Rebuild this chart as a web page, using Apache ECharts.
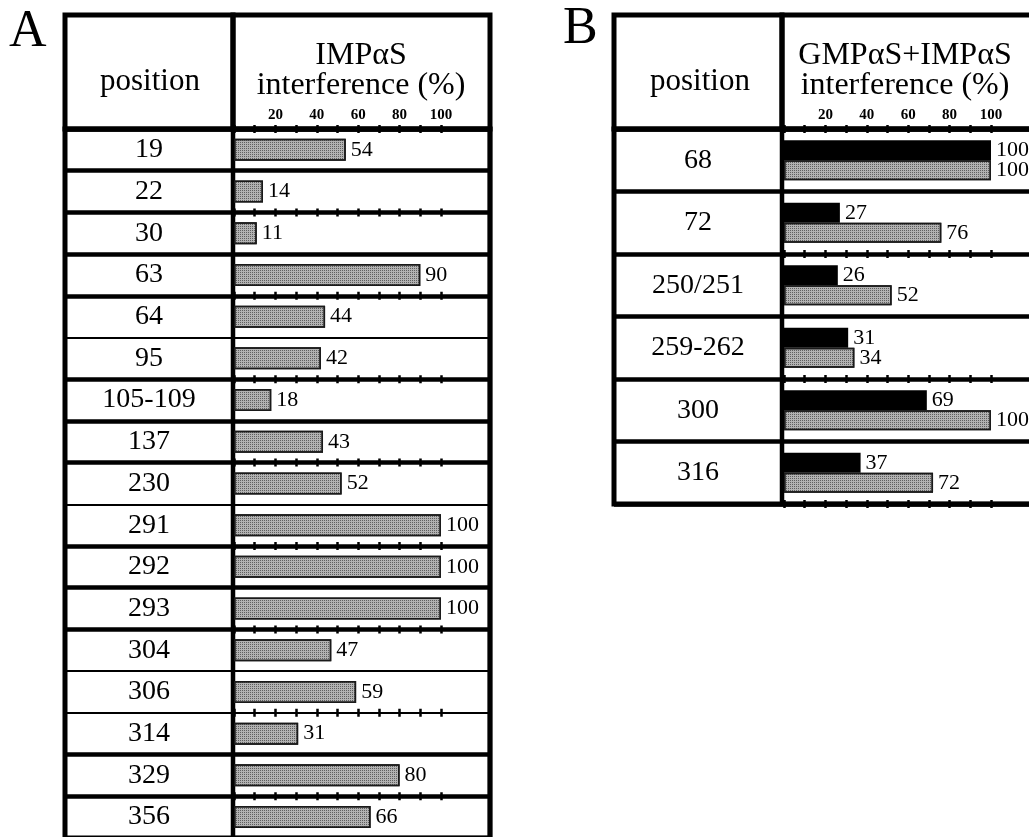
<!DOCTYPE html>
<html><head><meta charset="utf-8">
<script src="https://cdn.jsdelivr.net/npm/echarts@6/dist/echarts.min.js"></script>
<style>html,body{margin:0;padding:0;background:#fff}#c{width:1029px;height:837px}</style>
</head><body><div id="c"></div>
<script>
// ---- data ----
const positionsA = ['19','22','30','63','64','95','105-109','137','230','291','292','293','304','306','314','329','356'];
const impA = [54,14,11,90,44,42,18,43,52,100,100,100,47,59,31,80,66];
const positionsB = ['68','72','250/251','259-262','300','316'];
const gmpB = [100,27,26,31,69,37];
const impB = [100,76,52,34,100,72];
const tickLabels = ['20','40','60','80','100'];
const thinRowLinesA = [5,9,13,14];

const FONT = 'Liberation Serif, Times New Roman, serif';
const grids = [], xAxis = [], yAxis = [], series = [];

function grid(o){ grids.push(Object.assign({outerBoundsMode:'none'}, o)); return grids.length-1; }
function frameGrid(l,t,w,h,bw){
  const g = grid({left:l, top:t, width:w, height:h, show:true, borderColor:'#000', borderWidth:bw, backgroundColor:'transparent'});
  xAxis.push({gridIndex:g, type:'value', show:false});
  yAxis.push({gridIndex:g, type:'value', show:false});
  return g;
}
function rowsGrid(l,t,w,rowH,cats,thin,labelMargin){
  const g = grid({left:l, top:t, width:w, height:rowH*cats.length, show:true, borderColor:'#000', borderWidth:5, backgroundColor:'transparent'});
  xAxis.push({gridIndex:g, type:'value', show:false});
  const colors = [];
  for (let k=0;k<=cats.length;k++) colors.push(thin.includes(k) ? 'rgba(0,0,0,0)' : '#000');
  yAxis.push({gridIndex:g, type:'category', data:cats, inverse:true, position:'left',
    axisLine:{show:false}, axisTick:{show:false},
    axisLabel:{show:true, inside:true, margin:labelMargin, align:'center', interval:0, fontFamily:FONT, fontSize:28, color:'#000'},
    splitLine:{show:true, interval:0, lineStyle:{width:4.5, color:colors}}});
  yAxis.push({gridIndex:g, type:'category', data:cats, inverse:true, position:'right',
    axisLine:{show:false}, axisTick:{show:false}, axisLabel:{show:false},
    splitLine:{show:true, interval:0, lineStyle:{width:2, color:'#000'}}});
}
function valGrid(l,t,w,rowH,cats,tickRows){
  const g = grid({left:l, top:t, width:w, height:rowH*cats.length});
  const yi = yAxis.length;
  yAxis.push({gridIndex:g, type:'category', data:cats, inverse:true, show:false});
  let xi = -1;
  tickRows.forEach(k => {
    [false,true].forEach(inside => {
      const isLabel = (k===0 && !inside);
      if (isLabel) xi = xAxis.length;
      xAxis.push({gridIndex:g, type:'value', position:'top', offset:-k*rowH, min:0, max:100, interval:10,
        axisLine:{show:false}, splitLine:{show:false},
        axisTick:{show:true, inside:inside, length:4, lineStyle:{color:'#000', width:2.5}},
        axisLabel:{show:isLabel, margin:6, fontFamily:FONT, fontSize:15, fontWeight:'bold', color:'#000',
          formatter: v => tickLabels.includes(String(v)) ? String(v) : ''}});
    });
  });
  return {xi, yi};
}

const greyStyle = {color:'#b2b2b2', borderColor:'#1a1a1a', borderWidth:1.5,
  decal:{symbol:'rect', symbolSize:1, dashArrayX:[1,1], dashArrayY:[1,1], color:'rgba(40,40,40,0.6)'}};
const valLabel = {show:true, position:'right', distance:5, fontFamily:FONT, fontSize:22, color:'#000'};

// ---- panel A ----
const rowA = 41.7, topA = 129;
frameGrid(65, 15, 168, 114, 5);
frameGrid(233, 15, 257, 114, 5);
rowsGrid(65, topA, 425, rowA, positionsA, thinRowLinesA, 84);
frameGrid(233, topA, 257, rowA*positionsA.length, 4.5);
const va = valGrid(234, topA, 207, rowA, positionsA, [0,2,4,6,8,10,12,14,16]);
series.push({type:'bar', name:'IMPαS', xAxisIndex:va.xi, yAxisIndex:va.yi, data:impA, barWidth:22,
  itemStyle:greyStyle, label:valLabel});

// ---- panel B ----
const rowB = 62.5, topB = 129;
frameGrid(614, 15, 168, 114, 5);
frameGrid(782, 15, 250, 114, 5);
rowsGrid(614, topB, 418, rowB, positionsB, [], 84);
frameGrid(782, topB, 250, rowB*positionsB.length, 4.5);
const vb = valGrid(784, topB, 207, rowB, positionsB, [0,2,4,6]);
series.push({type:'bar', name:'GMPαS', xAxisIndex:vb.xi, yAxisIndex:vb.yi, data:gmpB, barWidth:20, barGap:'0%',
  itemStyle:{color:'#000', borderColor:'#000', borderWidth:0}, label:valLabel});
series.push({type:'bar', name:'IMPαS', xAxisIndex:vb.xi, yAxisIndex:vb.yi, data:impB, barWidth:20, barGap:'0%',
  itemStyle:greyStyle, label:valLabel});

const headStyle = {fontFamily:FONT, fontWeight:'normal', color:'#000'};
const chart = echarts.init(document.getElementById('c'));
chart.setOption({
  animation:false,
  backgroundColor:'#fff',
  title:[
    {text:'A', left:9, top:6, padding:0, textStyle:Object.assign({fontSize:52}, headStyle)},
    {text:'position', left:150, top:66, padding:0, textAlign:'center', textStyle:Object.assign({fontSize:31, lineHeight:31}, headStyle)},
    {text:'IMPαS\ninterference (%)', left:361, top:41, padding:0, textAlign:'center', textStyle:Object.assign({fontSize:32, lineHeight:30}, headStyle)},
    {text:'B', left:563, top:3, padding:0, textStyle:Object.assign({fontSize:52}, headStyle)},
    {text:'position', left:700, top:66, padding:0, textAlign:'center', textStyle:Object.assign({fontSize:31, lineHeight:31}, headStyle)},
    {text:'GMPαS+IMPαS\ninterference (%)', left:905, top:41, padding:0, textAlign:'center', textStyle:Object.assign({fontSize:32, lineHeight:30}, headStyle)}
  ],
  grid:grids, xAxis:xAxis, yAxis:yAxis, series:series
});
</script></body></html>
